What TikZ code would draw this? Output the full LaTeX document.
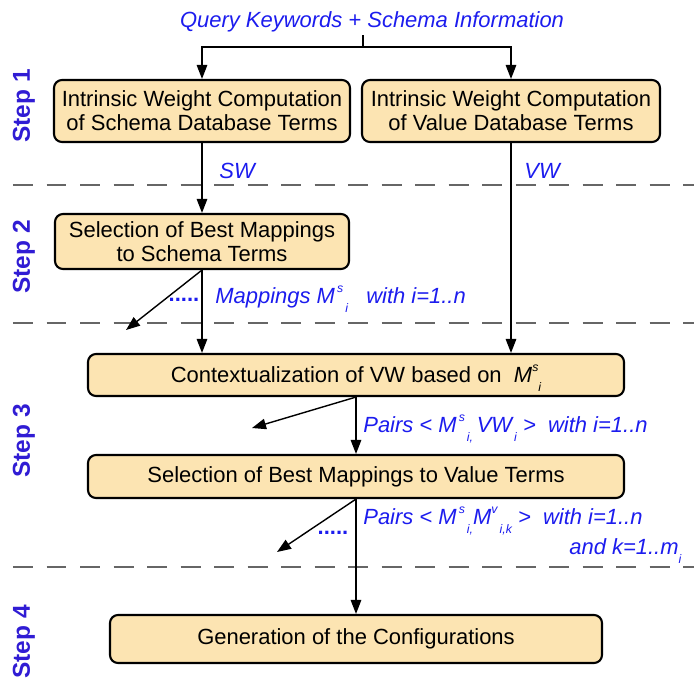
\documentclass[tikz,border=0pt]{standalone}
\usepackage{fontspec}
\setmainfont{Liberation Sans}
\usepackage{xcolor}
\usetikzlibrary{arrows.meta}

\definecolor{boxfill}{RGB}{252,228,178}
\definecolor{lblue}{RGB}{28,28,238}
\definecolor{sblue}{RGB}{48,28,212}

\tikzset{
  phase/.style={draw, line width=1.2pt, rounded corners=0.16cm, fill=boxfill, align=center,
    font=\fontsize{12.5}{13.6}\selectfont, inner sep=0pt},
  flow/.style={line width=0.8pt, -{Triangle[length=0.28cm,width=0.21cm]}},
  steplbl/.style={rotate=90, text=sblue, font=\fontsize{13.9}{15}\selectfont\bfseries},
  info/.style={text=lblue, font=\fontsize{12.5}{13.6}\selectfont\itshape, inner sep=0pt},
  sep/.style={draw=black!60, line width=1.1pt, dash pattern=on 0.40cm off 0.27cm}
}
% small superscript, then a subscript set lower
\newcommand{\ssub}[2]{\smash{\raisebox{0.95ex}{\scriptsize #1}\raisebox{-0.75ex}{\scriptsize #2}}}
\newcommand{\lsub}[1]{\smash{\raisebox{-0.75ex}{\scriptsize #1}}}

\begin{document}
\begin{tikzpicture}
\useasboundingbox (0,0) rectangle (13.88,-13.64);

% separators between the steps
\draw[sep] (0.26,-3.70) -- (13.88,-3.70);
\draw[sep] (0.26,-6.46) -- (13.88,-6.46);
\draw[sep] (0.26,-11.34) -- (13.88,-11.34);

\node[steplbl] (s1) at (0.48,-2.12) {Step 1};
\node[steplbl] (s2) at (0.48,-5.14) {Step 2};
\node[steplbl] (s3) at (0.48,-8.82) {Step 3};
\node[steplbl] (s4) at (0.48,-12.84) {Step 4};

\node[info] (query) at (7.44,-0.44) {Query Keywords + Schema Information};

\node (sch) at (4.04,-2.22)[phase, minimum width=5.92cm, minimum height=1.24cm]{Intrinsic Weight Computation\\of Schema Database Terms};
\node (val) at (10.22,-2.22)[phase, minimum width=5.96cm, minimum height=1.24cm]{Intrinsic Weight Computation\\of Value Database Terms};
\node (sels) at (4.04,-4.83)[phase, minimum width=5.88cm, minimum height=1.10cm]{Selection of Best Mappings\\to Schema Terms};
\node (ctx) at (7.12,-7.50)[phase, minimum width=10.72cm, minimum height=0.84cm]{Contextualization of VW based on \ \textit{M\ssub{s}{i}}};
\node (selv) at (7.12,-9.53)[phase, minimum width=10.72cm, minimum height=0.86cm]{Selection of Best Mappings to Value Terms};
\node (gen) at (7.12,-12.78)[phase, minimum width=9.84cm, minimum height=0.96cm]{Generation of the Configurations};

% split of the input
\coordinate (split) at (7.26,-0.94);
\draw[line width=0.8pt] (split |- 0,-0.70) -- (split);
\draw[flow] (split) -| (sch.north);
\draw[flow] (split) -| (val.north);

\draw[flow] (sch.south) -- (sels.north);
\draw[flow] (val.south) -- (val.south |- ctx.north);
\draw[flow] (sels.south) -- (sels.south |- ctx.north);
\draw[flow] (ctx.south) -- (selv.north);
\draw[flow] (selv.south) -- (gen.north);

\coordinate (out1) at (2.52,-6.60);
\coordinate (out2) at (5.04,-8.56);
\coordinate (out3) at (5.54,-11.04);
\draw[flow] (sels.south) -- (out1);
\draw[flow] (ctx.south) -- (out2);
\draw[flow] (selv.south) -- (out3);

\node[info, anchor=west] (sw) at (4.38,-3.42) {SW};
\node[info, anchor=west] (vw) at (10.48,-3.42) {VW};
\node[info, font=\fontsize{12.5}{13.6}\selectfont\bfseries] (dots1) at (3.68,-6.0) {.....};
\node[info, anchor=west] (map) at (4.30,-5.96) {Mappings M\ssub{\,s}{\,i} \ \ with i=1..n};
\node[info, anchor=west] (pairs1) at (7.26,-8.50) {Pairs < M\ssub{\,s}{\,i,}\,VW\lsub{\,i} >\ \ with i=1..n};
\node[info, font=\fontsize{12.5}{13.6}\selectfont\bfseries] (dots2) at (6.66,-10.66) {.....};
\node[info, anchor=west] (pairs2) at (7.26,-10.34) {Pairs < M\ssub{\,s}{\,i,}M\ssub{v}{\,i,k} >\ \ with i=1..n};
\node[info, anchor=west] (andk) at (11.38,-10.94) {and k=1..m\lsub{i}};
\end{tikzpicture}
\end{document}
